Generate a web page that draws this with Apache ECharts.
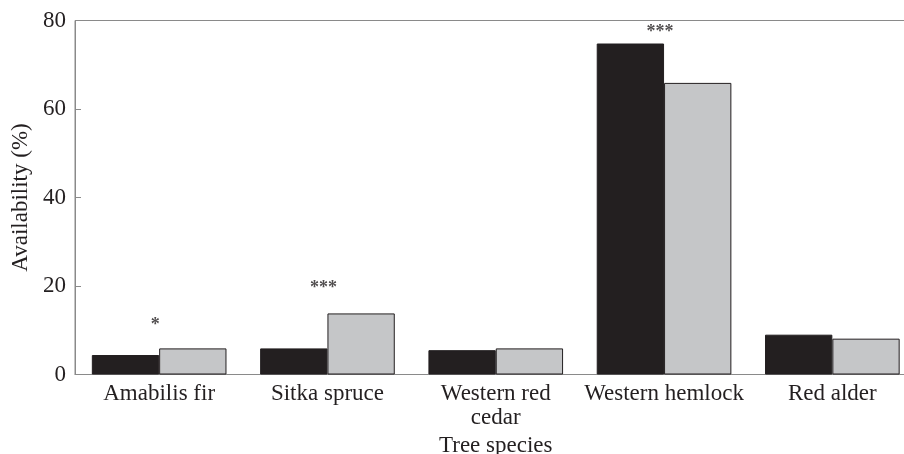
<!DOCTYPE html>
<html>
<head>
<meta charset="utf-8">
<script src="https://cdn.jsdelivr.net/npm/echarts@6/dist/echarts.min.js"></script>
<style>html,body{margin:0;padding:0;background:#fff;}#c{width:904px;height:454px;}</style>
</head>
<body>
<div id="c"></div>
<script>
const categories = ['Amabilis fir', 'Sitka spruce', 'Western red\ncedar', 'Western hemlock', 'Red alder'];
const seriesA = [4.4, 5.9, 5.5, 74.8, 9.0];
const seriesB = [5.9, 13.8, 5.9, 65.9, 8.1];
const sigLabels = ['*', '***', '', '***', ''];
const sigY = [11.2, 19.4, null, 77.3, null];
const yTicks = [0, 20, 40, 60, 80];

const FONT = 'Liberation Serif';
const chart = echarts.init(document.getElementById('c'));
chart.setOption({
  animation: false,
  backgroundColor: '#fff',
  grid: { left: 75, top: 20.5, bottom: 79.5, right: -12.5, outerBoundsMode: 'none', containLabel: false,
    show: true, borderColor: '#8a8a8a', borderWidth: 1, backgroundColor: 'transparent' },
  xAxis: {
    type: 'category',
    data: categories,
    name: 'Tree species',
    nameLocation: 'middle',
    nameGap: 49,
    nameTextStyle: { fontFamily: FONT, fontSize: 23, color: '#231f20' },
    axisLine: { lineStyle: { color: '#8a8a8a', width: 1 } },
    axisTick: { show: false },
    axisLabel: { interval: 0, margin: 7, fontFamily: FONT, fontSize: 23, color: '#231f20', lineHeight: 24 }
  },
  yAxis: {
    type: 'value',
    min: yTicks[0],
    max: yTicks[yTicks.length - 1],
    interval: 20,
    name: 'Availability (%)',
    nameLocation: 'middle',
    nameGap: 41,
    nameTextStyle: { fontFamily: FONT, fontSize: 23, color: '#231f20' },
    axisLine: { show: true, lineStyle: { color: '#8a8a8a', width: 1 } },
    axisTick: { show: true, inside: true, length: 6, lineStyle: { color: '#8a8a8a' } },
    splitLine: { show: false },
    axisLabel: { margin: 9, fontFamily: FONT, fontSize: 23, color: '#231f20' }
  },
  series: [
    { type: 'bar', data: seriesA, barGap: '0%', barCategoryGap: '20%',
      itemStyle: { color: '#231f20', borderColor: '#231f20', borderWidth: 1 } },
    { type: 'bar', data: seriesB,
      itemStyle: { color: '#c5c6c8', borderColor: '#231f20', borderWidth: 1 } },
    { type: 'scatter', data: sigY, symbolSize: 1, itemStyle: { color: 'rgba(0,0,0,0)' }, silent: true,
      label: { show: true, position: 'inside', offset: [-4, 0],
        formatter: p => sigLabels[p.dataIndex], fontFamily: FONT, fontSize: 18, fontWeight: 'bold', color: '#231f20' } }
  ]
});
</script>
</body>
</html>
